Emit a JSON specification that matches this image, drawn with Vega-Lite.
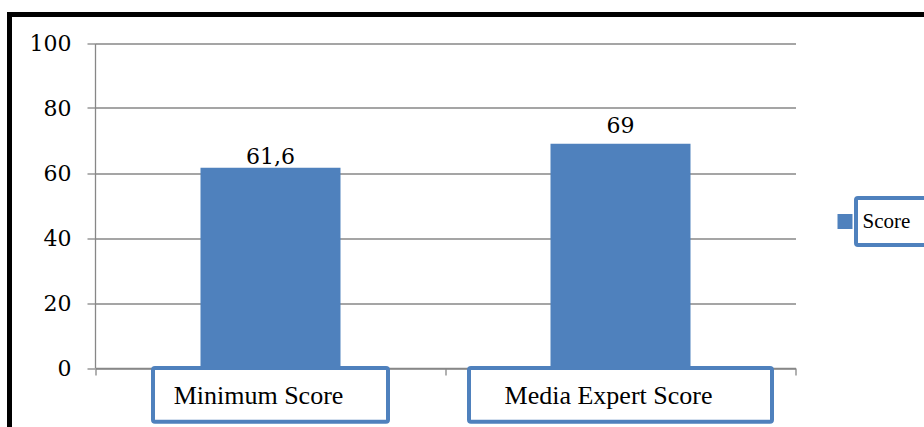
{
  "$schema": "https://vega.github.io/schema/vega-lite/v6.json",
  "autosize": "none",
  "width": 930,
  "height": 430,
  "padding": {"left": 9.5, "top": 14.5, "right": -15.5, "bottom": -17.5},
  "background": "white",
  "config": {
    "view": {"stroke": "#000000", "strokeWidth": 5, "fill": "white"},
    "locale": {"number": {"decimal": ",", "thousands": ".", "grouping": [3], "currency": ["", ""]}},
    "legend": {"strokeWidth": 4}
  },
  "data": {
    "values": [
      {"category": "Minimum Score", "score": 61.6},
      {"category": "Media Expert Score", "score": 69}
    ]
  },
  "encoding": {
    "x": {
      "field": "category",
      "type": "nominal",
      "sort": null,
      "title": null,
      "scale": {"range": [86, 786], "paddingInner": 0, "paddingOuter": 0},
      "axis": {
        "labels": false,
        "tickBand": "extent",
        "ticks": true,
        "tickSize": 7,
        "tickColor": "#878787",
        "tickWidth": 1.3,
        "domainColor": "#878787",
        "domainWidth": 1.3,
        "grid": false,
        "offset": -76.5
      }
    }
  },
  "layer": [
    {
      "mark": {"type": "bar", "width": {"band": 0.4}},
      "encoding": {
        "y": {
          "field": "score",
          "type": "quantitative",
          "title": null,
          "scale": {"domain": [0, 100], "range": [353.5, 28.5], "nice": false, "zero": true},
          "axis": {
            "offset": -85.5,
            "values": [0, 20, 40, 60, 80, 100],
            "grid": true,
            "gridColor": "#878787",
            "gridWidth": 1.3,
            "domainColor": "#878787",
            "domainWidth": 1.3,
            "tickColor": "#878787",
            "tickWidth": 1.3,
            "tickSize": 8,
            "labelFont": "DejaVu Serif",
            "labelFontSize": 22,
            "labelColor": "#000000",
            "labelPadding": 16
          }
        },
        "color": {
          "datum": "Score",
          "scale": {"range": ["#4f81bd"]},
          "legend": {
            "orient": "none",
            "legendX": 846.5,
            "legendY": 183.5,
            "title": "\u00a0",
            "titleOrient": "right",
            "titlePadding": 30,
            "titleFontSize": 21,
            "titleFont": "Liberation Serif",
            "strokeColor": "#4f81bd",
            "padding": 13,
            "cornerRadius": 2,
            "symbolType": "square",
            "symbolSize": 225,
            "symbolStrokeWidth": 0,
            "symbolOffset": -34.5,
            "labelOffset": 7,
            "labelFont": "Liberation Serif",
            "labelFontSize": 21,
            "labelColor": "#000000"
          }
        }
      }
    },
    {
      "transform": [{"filter": "datum.category === 'Minimum Score'"}],
      "mark": {"type": "text", "font": "DejaVu Serif", "fontSize": 22, "color": "#000000", "baseline": "alphabetic", "dy": -4},
      "encoding": {
        "y": {"field": "score", "type": "quantitative", "title": null},
        "text": {"field": "score", "type": "quantitative", "format": ".1~f"}
      }
    },
    {
      "transform": [{"filter": "datum.category === 'Media Expert Score'"}],
      "mark": {"type": "text", "font": "DejaVu Serif", "fontSize": 22, "color": "#000000", "baseline": "alphabetic", "dy": -10.5},
      "encoding": {
        "y": {"field": "score", "type": "quantitative", "title": null},
        "text": {"field": "score", "type": "quantitative", "format": ".1~f"}
      }
    },
    {
      "transform": [{"filter": "datum.category === 'Minimum Score'"}],
      "mark": {"type": "rect", "width": 235, "fill": "white", "stroke": "#4f81bd", "strokeWidth": 4, "cornerRadius": 2},
      "encoding": {
        "y": {"datum": 0, "title": null},
        "y2": {"datum": -16.5}
      }
    },
    {
      "transform": [{"filter": "datum.category === 'Media Expert Score'"}],
      "mark": {"type": "rect", "width": 303, "fill": "white", "stroke": "#4f81bd", "strokeWidth": 4, "cornerRadius": 2},
      "encoding": {
        "y": {"datum": 0, "title": null},
        "y2": {"datum": -16.5}
      }
    },
    {
      "mark": {"type": "text", "font": "Liberation Serif", "fontSize": 26, "color": "#000000", "baseline": "alphabetic", "dx": -12},
      "encoding": {
        "y": {"datum": -11, "title": null},
        "text": {"field": "category"}
      }
    }
  ]
}
